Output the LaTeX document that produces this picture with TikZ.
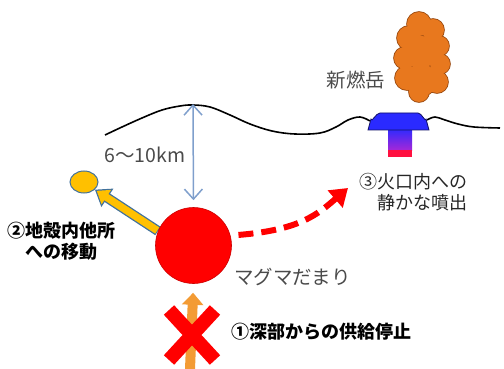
\documentclass[tikz,border=0pt]{standalone}
\usepackage{fontspec}
\newfontfamily\jp{Noto Sans CJK JP}
\usetikzlibrary{arrows.meta,positioning,shapes.geometric,shapes.misc}

\definecolor{magma}{HTML}{FF0000}
\definecolor{txtgray}{HTML}{4A4A4A}
\definecolor{depthblue}{HTML}{7F9FCC}
\definecolor{pocketfill}{HTML}{FFC000}
\definecolor{pocketedge}{HTML}{41719C}
\definecolor{supplyorange}{HTML}{F39B34}
\definecolor{plume}{HTML}{E8781E}
\definecolor{plumeedge}{HTML}{9A4A10}
\definecolor{ventblue}{HTML}{2A2AFF}
\definecolor{ventpurple}{HTML}{A428D8}
\definecolor{ventred}{HTML}{FF1040}

\begin{document}
\begin{tikzpicture}[x=1pt,y=-1pt,
    lbl/.style={font=\jp\fontsize{19.5}{23}\selectfont,text=txtgray,inner sep=0pt},
    boldlbl/.style={font=\jp\bfseries\fontsize{18}{21}\selectfont,text=black,inner sep=0pt},
    depth/.style={{Straight Barb[length=10pt,width=18pt]}-{Straight Barb[length=10pt,width=18pt]},
        draw=depthblue,line width=1.5pt},
    flow/.style={-{Triangle[length=17pt,width=22pt]},draw=magma,line width=6pt,
        dash pattern=on 15pt off 8pt},
    supply/.style={-{Triangle[length=12pt,width=21pt]},draw=supplyorange,line width=10pt},
    ground/.style={draw=black,line width=1.6pt,line join=round}]

    \useasboundingbox (0,0) rectangle (504,369);

    % surface profile
    \draw[ground] plot[smooth,tension=0.6] coordinates {(105,135) (122,127) (142,118)
        (162,110) (180,106) (193,105) (210,107) (230,115) (250,124) (272,131) (295,134)
        (320,133) (336,127) (348,120) (360,117) (370,121)};
    \draw[ground] plot[smooth,tension=0.6] coordinates {(427,120) (435,117) (445,120)
        (458,124) (474,127) (500,128)};

    % vent of the crater
    \shade[top color=ventblue,bottom color=ventpurple] (388,128) rectangle (412,150);
    \fill[ventred] (388,150) rectangle (412,157);
    \draw[draw=ventblue!40!black,fill=ventblue,line width=0.8pt]
        (368,130) -- (371,119) to[out=-80,in=180] (380,113) -- (418,113)
        to[out=0,in=-100] (426,119) -- (429,130) -- cycle;

    % eruption plume
    \begin{scope}
        \foreach \cx/\cy/\r in {419/24/12,433/30/11,409/38/12,439/46/10,405/58/11,
            440/64/10,421/52/16,407/78/12,437/82/11,421/80/16,419/92/10}
            \draw[plumeedge,line width=1.6pt] (\cx,\cy) circle (\r);
        \foreach \cx/\cy/\r in {419/24/12,433/30/11,409/38/12,439/46/10,405/58/11,
            440/64/10,421/52/16,407/78/12,437/82/11,421/80/16,419/92/10}
            \fill[plume] (\cx,\cy) circle (\r);
    \end{scope}
    \node[lbl] (shinmoe) at (356,80) {新燃岳};

    % magma chamber and where it goes
    \node[ellipse,fill=pocketfill,draw=pocketedge,line width=1pt,minimum width=28pt,
        minimum height=22pt,inner sep=0pt] (pocket) at (84,182) {};
    \draw[draw=pocketedge,line width=10pt,-{Triangle[length=15pt,width=21pt]}]
        (158,231) -- (pocket.-35);
    \draw[draw=pocketfill,line width=7.4pt,-{Triangle[length=11.5pt,width=16.5pt]},
        shorten >=2.2pt,shorten <=0.9pt] (158,231) -- (pocket.-35);

    \node[circle,fill=magma,draw=magma!80!black,line width=0.6pt,minimum size=76pt,
        inner sep=0pt] (chamber) at (193.5,245.5) {};

    \coordinate (peak) at (193,104);
    \coordinate (ventflow) at (348,188);
    \coordinate (deep) at (190,369);

    \path (peak) edge[depth,shorten >=7pt] (chamber.north);
    \draw[flow,shorten <=8pt] (chamber.15) .. controls (300,230) and (318,214) .. (ventflow);
    \draw[supply,shorten >=9pt] (deep) -- (chamber.south);

    \node[cross out,draw=magma,line width=14pt,minimum width=32pt,minimum height=36pt,
        inner sep=0pt] (stop) at (192,335) {};

    % labels
    \node[lbl] (depthlbl) at (145,155) {6〜10km};
    \node[lbl,anchor=west] (chamberlbl) at (234,277) {マグマだまり};
    \node[boldlbl,anchor=west] (stoplbl) at (231,332) {①深部からの供給停止};
    \node[boldlbl,align=center] (movelbl) at (62,241) {②地殻内他所\\への移動};
    \node[lbl,font=\jp\fontsize{18}{21}\selectfont,text=black!85,align=right,anchor=east]
        (eruptlbl) at (468,192) {③火口内への\\静かな噴出};
\end{tikzpicture}
\end{document}
